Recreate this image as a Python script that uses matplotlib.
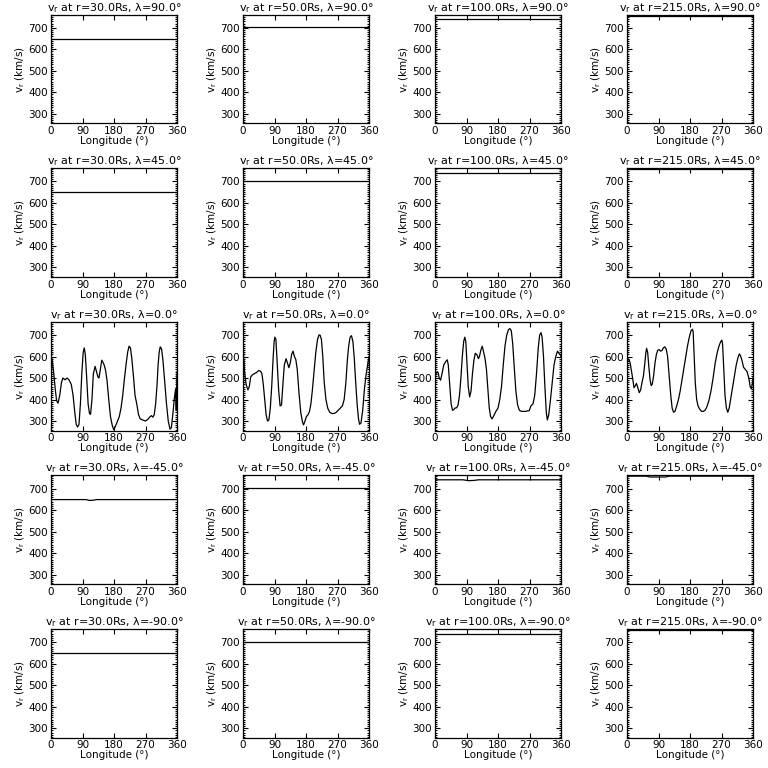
import numpy as np
import matplotlib
matplotlib.use("Agg")
import matplotlib.pyplot as plt
from matplotlib.ticker import MultipleLocator, FixedLocator

# 网格：列 = 半径，行 = 纬度
radii = [30.0, 50.0, 100.0, 215.0]
lats = [90.0, 45.0, 0.0, -45.0, -90.0]

# 高纬度面板：几乎不变的速度
v_lat90 = [650, 703, 740, 757]
v_lat45 = [650, 704, 740, 757]
v_latm90 = [648, 703, 740, 757]

# lambda = -45 的面板有很小的凹陷
lon_s30 = [0, 100, 110, 120, 130, 360]
v_s30 = [649, 649, 645, 646, 649, 649]
lon_s50 = [0, 360]
v_s50 = [703, 703]
lon_s100 = [0, 80, 95, 110, 125, 360]
v_s100 = [741, 741, 737, 738, 741, 741]
lon_s215 = [0, 55, 65, 110, 120, 360]
v_s215 = [758, 758, 754, 754, 758, 758]

# 赤道 (lambda = 0) 的速度曲线
lon_e30 = [0, 3, 8, 12, 16, 20, 25, 30, 34, 40, 46, 52, 58, 63, 68, 72, 76, 80, 84, 88, 92, 95, 98, 102, 106, 110, 113,
           117, 121, 126, 130, 134, 137, 141, 145, 148, 152, 156, 160, 165, 170, 175, 179, 184, 190, 195, 200, 205,
           210, 215, 219, 223, 227, 231, 236, 240, 245, 250, 255, 262, 270, 278, 283, 287, 291, 295, 299, 303, 306,
           309, 312, 316, 320, 325, 330, 335, 340, 344, 348, 352, 356, 358, 360]
v_e30 = [600, 590, 520, 450, 395, 383, 420, 480, 500, 492, 500, 490, 470, 420, 340, 285, 272, 285, 380, 520, 620, 640,
         610, 500, 380, 335, 331, 400, 520, 554, 530, 505, 500, 540, 583, 575, 560, 535, 490, 400, 320, 280, 260,
         275, 300, 320, 360, 420, 500, 570, 620, 648, 640, 590, 500, 420, 380, 330, 310, 305, 300, 310, 320, 325,
         318, 330, 380, 470, 560, 620, 645, 635, 580, 480, 380, 300, 262, 270, 330, 400, 450, 350, 530]

lon_e50 = [0, 2, 5, 9, 14, 18, 22, 27, 32, 38, 45, 50, 54, 58, 62, 66, 70, 74, 78, 82, 86, 89, 91, 94, 98, 102, 106,
           110, 114, 118, 123, 127, 131, 135, 139, 143, 147, 151, 155, 160, 165, 170, 173, 177, 181, 186, 190, 194,
           198, 203, 208, 213, 217, 220, 224, 228, 232, 237, 242, 248, 254, 260, 266, 272, 278, 284, 289, 294, 298,
           302, 306, 310, 314, 318, 322, 326, 330, 333, 337, 342, 347, 352, 356, 360]
v_e50 = [630, 600, 520, 470, 445, 460, 505, 515, 520, 525, 535, 532, 520, 470, 400, 330, 300, 305, 360, 460, 590, 670,
         690, 680, 560, 440, 370, 375, 470, 560, 590, 570, 548, 570, 610, 625, 600, 585, 540, 430, 340, 295, 282,
         300, 320, 330, 345, 380, 440, 530, 620, 680, 700, 700, 680, 600, 480, 400, 360, 340, 335, 335, 340, 350,
         360, 370, 400, 480, 580, 650, 690, 697, 670, 590, 480, 380, 310, 285, 290, 350, 450, 520, 560, 600]

lon_e100 = [0, 3, 6, 9, 12, 16, 20, 25, 30, 35, 38, 42, 46, 50, 53, 57, 62, 66, 70, 74, 78, 82, 85, 88, 91, 95, 99,
            103, 107, 111, 115, 120, 124, 127, 131, 135, 139, 143, 147, 151, 155, 159, 163, 168, 174, 180, 185, 190,
            195, 200, 205, 210, 214, 218, 222, 226, 231, 236, 241, 247, 253, 259, 264, 269, 274, 280, 285, 290, 295,
            299, 303, 306, 310, 314, 318, 321, 325, 330, 335, 340, 345, 350, 354, 357, 360]
v_e100 = [505, 520, 530, 525, 500, 490, 520, 560, 575, 585, 560, 470, 380, 350, 352, 360, 362, 375, 420, 500, 600,
          670, 690, 670, 580, 460, 412, 440, 520, 580, 615, 608, 590, 600, 630, 648, 620, 590, 540, 450, 360, 320,
          310, 325, 345, 360, 400, 460, 560, 650, 700, 725, 730, 720, 660, 560, 440, 375, 350, 345, 345, 345, 347,
          348, 370, 380, 420, 520, 640, 700, 711, 690, 600, 460, 340, 305, 330, 400, 480, 560, 600, 625, 615, 610,
          600]

lon_e215 = [0, 3, 6, 9, 12, 16, 20, 24, 27, 31, 35, 39, 43, 47, 51, 54, 56, 59, 62, 66, 69, 72, 76, 80, 84, 88, 92,
            96, 100, 104, 108, 112, 116, 120, 125, 129, 133, 137, 142, 147, 152, 158, 163, 168, 173, 178, 183, 187,
            189, 192, 195, 199, 203, 208, 213, 218, 223, 228, 234, 240, 246, 252, 258, 263, 268, 271, 273, 276, 280,
            284, 288, 292, 297, 302, 307, 312, 317, 321, 324, 328, 333, 338, 343, 348, 352, 355, 358, 360]
v_e215 = [560, 590, 585, 570, 540, 500, 455, 465, 475, 455, 432, 445, 480, 510, 570, 620, 638, 620, 560, 490, 465, 470,
          510, 570, 610, 630, 632, 625, 628, 640, 645, 635, 600, 520, 420, 360, 341, 345, 370, 400, 440, 500, 550,
          600, 650, 690, 720, 727, 715, 600, 480, 400, 370, 355, 345, 345, 350, 365, 395, 440, 500, 570, 620, 650,
          670, 676, 660, 560, 420, 360, 341, 360, 410, 460, 510, 560, 595, 612, 605, 585, 550, 540, 530, 500, 460,
          450, 470, 500]

# 坐标范围与刻度
y_range = [256, 761]
x_ticks = [0, 90, 180, 270, 360]
x_ticklabels = ["0", "90", "180", "270", "360"]
y_ticks = [300, 400, 500, 600, 700]

fs = 7.5
plt.rcParams["font.family"] = ["DejaVu Sans"]
plt.rcParams["mathtext.default"] = "regular"

fig = plt.figure(figsize=(7.68, 7.68), dpi=100)

flat_rows = {0: v_lat90, 1: v_lat45, 4: v_latm90}
south_rows = [(lon_s30, v_s30), (lon_s50, v_s50), (lon_s100, v_s100), (lon_s215, v_s215)]
eq_rows = [(lon_e30, v_e30), (lon_e50, v_e50), (lon_e100, v_e100), (lon_e215, v_e215)]

for j, lat in enumerate(lats):
    for i, r in enumerate(radii):
        left = (192 * i + 51) / 768
        bottom = 1 - (153.6 * j + 123.3) / 768
        ax = fig.add_axes([left, bottom, 126 / 768, 108.6 / 768])

        if j in flat_rows:
            x, y = [0, 360], [flat_rows[j][i]] * 2
        elif j == 2:
            x, y = eq_rows[i]
        else:
            x, y = south_rows[i]
        ax.plot(x, y, color="black", lw=0.9)

        ax.set_xlim(0, 360)
        ax.set_ylim(*y_range)
        ax.xaxis.set_major_locator(FixedLocator(x_ticks))
        ax.set_xticklabels(x_ticklabels)
        ax.yaxis.set_major_locator(FixedLocator(y_ticks))
        ax.yaxis.set_minor_locator(MultipleLocator(10))
        ax.tick_params(which="both", direction="in", top=True, right=True,
                       labelsize=fs, width=0.8, pad=2)
        ax.tick_params(which="major", length=3.5)
        ax.tick_params(which="minor", length=1.5)
        for s in ax.spines.values():
            s.set_linewidth(0.9)

        ax.set_title(f"$v_r$ at r={r:.1f}Rs, λ={lat:.1f}°", fontsize=fs + 0.5, pad=2)
        ax.set_xlabel("Longitude (°)", fontsize=fs, labelpad=0)
        ax.set_ylabel("$v_r$ (km/s)", fontsize=fs, labelpad=1)

fig.savefig("out.png", dpi=100, facecolor="white")
